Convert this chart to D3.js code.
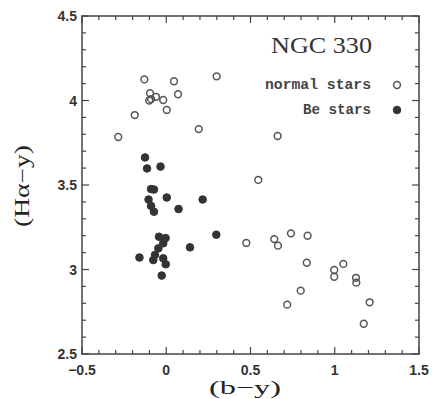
<!DOCTYPE html>
<html>
<head>
<meta charset="utf-8">
<script src="https://cdn.jsdelivr.net/npm/d3@7"></script>
<style>
  body { margin: 0; background: #fff; }
  svg { display: block; }
</style>
</head>
<body>
<div id="chart"></div>
<script>
// (b-y), (Ha-y) for the normal stars of NGC 330
const normalX = [-0.13, 0.046, 0.299, -0.096, -0.061, -0.101, -0.09, -0.018, 0.07, 0.003, -0.187, 0.193, -0.285,
  0.661, 0.546, 0.475, 0.641, 0.663, 0.74, 0.839, 0.834, 0.997, 0.997, 1.051, 1.126, 1.128, 0.798, 0.718, 1.207, 1.172];
const normalY = [4.125, 4.114, 4.143, 4.043, 4.022, 4.0, 4.008, 4.003, 4.037, 3.944, 3.914, 3.831, 3.784,
  3.79, 3.53, 3.157, 3.18, 3.141, 3.214, 3.2, 3.04, 2.997, 2.957, 3.033, 2.951, 2.922, 2.875, 2.792, 2.806, 2.679];

// Be stars
const beX = [-0.126, -0.114, -0.034, -0.09, -0.073, -0.105, -0.09, -0.073, 0.003, 0.073, 0.216, 0.297, 0.141, -0.159,
  -0.043, -0.004, -0.018, -0.047, -0.067, -0.077, -0.018, -0.003, -0.027];
const beY = [3.663, 3.598, 3.609, 3.476, 3.473, 3.414, 3.376, 3.342, 3.426, 3.358, 3.414, 3.206, 3.131, 3.071,
  3.194, 3.186, 3.155, 3.125, 3.086, 3.056, 3.066, 3.031, 2.964];

const xTicks = [-0.5, 0, 0.5, 1, 1.5];
const yTicks = [2.5, 3, 3.5, 4, 4.5];
const xTickLabels = ["\u22120.5", "0", "0.5", "1", "1.5"];
const yTickLabels = ["2.5", "3", "3.5", "4", "4.5"];

const width = 432, height = 399;
const margin = { top: 16, right: 13, bottom: 45, left: 82 };

const svg = d3.select("#chart").append("svg")
  .attr("width", width)
  .attr("height", height);

const x = d3.scaleLinear().domain([-0.5, 1.5]).range([margin.left, width - margin.right]);
const y = d3.scaleLinear().domain([2.5, 4.5]).range([height - margin.bottom, margin.top]);

const ink = "#444";
const minorX = d3.range(-0.5, 1.5001, 0.1);
const minorY = d3.range(2.5, 4.5001, 0.1);
const isMajor = v => Math.abs(v * 2 - Math.round(v * 2)) < 1e-6;

// ticks on all four sides, pointing inward
const ticks = svg.append("g").attr("stroke", ink).attr("stroke-width", 1.2);
minorX.forEach(v => {
  const len = isMajor(v) ? 7 : 4;
  ticks.append("line").attr("x1", x(v)).attr("x2", x(v))
    .attr("y1", y(2.5)).attr("y2", y(2.5) - len);
  ticks.append("line").attr("x1", x(v)).attr("x2", x(v))
    .attr("y1", y(4.5)).attr("y2", y(4.5) + len);
});
minorY.forEach(v => {
  const len = isMajor(v) ? 7 : 4;
  ticks.append("line").attr("y1", y(v)).attr("y2", y(v))
    .attr("x1", x(-0.5)).attr("x2", x(-0.5) + len);
  ticks.append("line").attr("y1", y(v)).attr("y2", y(v))
    .attr("x1", x(1.5)).attr("x2", x(1.5) - len);
});

// frame
svg.append("rect")
  .attr("x", x(-0.5)).attr("y", y(4.5))
  .attr("width", x(1.5) - x(-0.5)).attr("height", y(2.5) - y(4.5))
  .attr("fill", "none").attr("stroke", ink).attr("stroke-width", 1.5);

// tick labels
const tickFont = "'Liberation Sans', Arial, sans-serif";
svg.append("g").selectAll("text")
  .data(xTicks)
  .join("text")
  .attr("x", d => x(d))
  .attr("y", 375)
  .attr("text-anchor", "middle")
  .attr("font-family", tickFont)
  .attr("font-size", 14)
  .attr("font-weight", "bold")
  .attr("fill", "#333")
  .text((d, i) => xTickLabels[i]);

svg.append("g").selectAll("text")
  .data(yTicks)
  .join("text")
  .attr("x", 77)
  .attr("y", d => y(d) + 5)
  .attr("text-anchor", "end")
  .attr("font-family", tickFont)
  .attr("font-size", 14)
  .attr("font-weight", "bold")
  .attr("fill", "#333")
  .text((d, i) => yTickLabels[i]);

// axis titles
const serif = "'Liberation Serif', 'DejaVu Serif', serif";
svg.append("text")
  .attr("x", 245).attr("y", 394)
  .attr("text-anchor", "middle")
  .attr("font-family", serif)
  .attr("font-size", 19)
  .attr("fill", "#222")
  .attr("textLength", 72)
  .attr("lengthAdjust", "spacingAndGlyphs")
  .text("(b\u2212y)");

svg.append("text")
  .attr("transform", "translate(29,186) rotate(-90)")
  .attr("text-anchor", "middle")
  .attr("font-family", serif)
  .attr("font-size", 20)
  .attr("fill", "#222")
  .attr("textLength", 82)
  .attr("lengthAdjust", "spacingAndGlyphs")
  .text("(H\u03b1\u2212y)");

// title and legend
svg.append("text")
  .attr("x", 372).attr("y", 53)
  .attr("text-anchor", "end")
  .attr("font-family", serif)
  .attr("font-size", 24)
  .attr("fill", "#333")
  .attr("textLength", 101)
  .attr("lengthAdjust", "spacingAndGlyphs")
  .text("NGC 330");

const mono = "'Liberation Mono', 'DejaVu Sans Mono', monospace";
const legend = [
  { label: "normal stars", filled: false, y: 85, len: 106 },
  { label: "Be stars", filled: true, y: 110, len: 68 }
];
legend.forEach(d => {
  svg.append("text")
    .attr("x", 371).attr("y", d.y + 4)
    .attr("text-anchor", "end")
    .attr("font-family", mono)
    .attr("font-size", 14)
    .attr("font-weight", "bold")
    .attr("fill", "#444")
    .attr("textLength", d.len)
    .attr("lengthAdjust", "spacingAndGlyphs")
    .text(d.label);
  svg.append("circle")
    .attr("cx", 397).attr("cy", d.y)
    .attr("r", d.filled ? 3.8 : 3.4)
    .attr("fill", d.filled ? "#333" : "none")
    .attr("stroke", d.filled ? "#333" : "#555")
    .attr("stroke-width", d.filled ? 1 : 1.5);
});

// points
svg.append("g").selectAll("circle")
  .data(d3.range(normalX.length))
  .join("circle")
  .attr("cx", i => x(normalX[i]))
  .attr("cy", i => y(normalY[i]))
  .attr("r", 3.4)
  .attr("fill", "none")
  .attr("stroke", "#555")
  .attr("stroke-width", 1.5);

svg.append("g").selectAll("circle")
  .data(d3.range(beX.length))
  .join("circle")
  .attr("cx", i => x(beX[i]))
  .attr("cy", i => y(beY[i]))
  .attr("r", 3.8)
  .attr("fill", "#333")
  .attr("stroke", "#333")
  .attr("stroke-width", 1);
</script>
</body>
</html>
